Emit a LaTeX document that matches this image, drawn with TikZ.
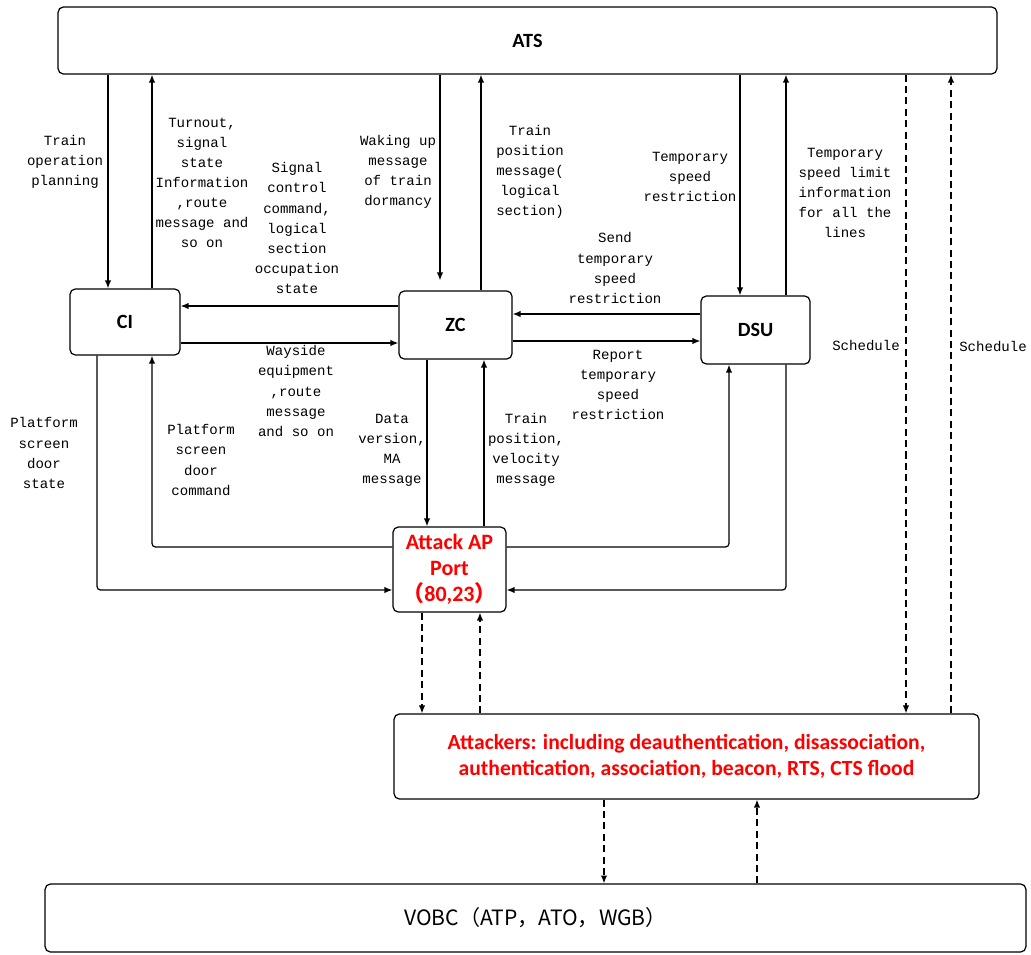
\documentclass[tikz,border=0pt]{standalone}
\usepackage{fontspec}
\usetikzlibrary{shapes,arrows,arrows.meta,calc,positioning}
\newfontfamily\lblfont{Liberation Mono}
\newfontfamily\boxfont{Carlito}
\newfontfamily\cjkfont{Noto Sans CJK SC}
\definecolor{atkred}{RGB}{255,0,0}
\tikzstyle{unit} = [rectangle, draw, rounded corners=3pt, line width=0.7pt, align=center, inner sep=0pt,
font=\boxfont\bfseries\fontsize{11.5}{14}\selectfont]
\tikzstyle{msg} = [align=center, inner sep=0pt, font=\lblfont\fontsize{8}{11.4}\selectfont]
\tikzstyle{line} = [draw, line width=0.7pt, -{Latex[length=4.5pt,width=3.6pt]}]
\tikzstyle{dline} = [line, dash pattern=on 4pt off 2.5pt]
\begin{document}
\begin{tikzpicture}[x=0.02cm, y=-0.02cm]
\useasboundingbox (0,0) rectangle (1031,954);
\node [unit, minimum width=18.78cm, minimum height=1.34cm] (ats) at (527.5,40.5) {ATS};
\node [unit, minimum width=2.2cm, minimum height=1.32cm] (ci) at (125,322) {CI};
\node [unit, minimum width=2.26cm, minimum height=1.36cm] (zc) at (455.5,325) {ZC};
\node [unit, minimum width=2.18cm, minimum height=1.36cm] (dsu) at (755.5,330) {DSU};
\node [unit, minimum width=2.26cm, minimum height=1.7cm, text=atkred,
font=\boxfont\bfseries\fontsize{12.5}{14.7}\selectfont] (ap) at (449.5,569.5)
{Attack AP\\Port\\{\cjkfont （}80,23{\cjkfont ）}};
\node [unit, minimum width=11.7cm, minimum height=1.7cm, text=atkred,
font=\boxfont\bfseries\fontsize{12.3}{14.7}\selectfont] (att) at (686.5,756.5)
{Attackers: including deauthentication, disassociation,\\authentication, association, beacon, RTS, CTS flood};
\node [unit, minimum width=19.62cm, minimum height=1.36cm,
font=\cjkfont\fontsize{12}{14}\selectfont] (vobc) at (535.5,918) {VOBC（ATP，ATO，WGB）};

\node [msg] (plan) at (65,162) {Train\\operation\\planning};
\node [msg] (turnout) at (202,183) {Turnout,\\signal\\state\\Information\\,route\\message and\\so on};
\node [msg] (sigctl) at (297,228) {Signal\\control\\command,\\logical\\section\\occupation\\state};
\node [msg] (wake) at (398,172) {Waking up\\message\\of train\\dormancy};
\node [msg] (trpos) at (530,172) {Train\\position\\message(\\logical\\section)};
\node [msg] (tsr) at (690,177) {Temporary\\speed\\restriction};
\node [msg] (tsrall) at (845,193) {Temporary\\speed limit\\information\\for all the\\lines};
\node [msg] (send) at (615,268) {Send\\temporary\\speed\\restriction};
\node [msg] (wayside) at (296,391) {Wayside\\equipment\\,route\\message\\and so on};
\node [msg] (report) at (618,385) {Report\\temporary\\speed\\restriction};
\node [msg] (psdstate) at (44,453) {Platform\\screen\\door\\state};
\node [msg] (psdcmd) at (201,460) {Platform\\screen\\door\\command};
\node [msg] (data) at (392,450) {Data\\version,\\MA\\message};
\node [msg] (trvel) at (526,450) {Train\\position,\\velocity\\message};
\node [msg] (sch1) at (866,345) {Schedule};
\node [msg] (sch2) at (993,346) {Schedule};

% lanes to and from ATS
\coordinate (c1) at ($(ci.north)+(-17,0)$);
\coordinate (c2) at ($(ci.north)+(27,0)$);
\coordinate (z1) at ($(zc.north)+(-15.5,0)$);
\coordinate (z2) at ($(zc.north)+(25.5,0)$);
\coordinate (d1) at ($(dsu.north)+(-15.5,0)$);
\coordinate (d2) at ($(dsu.north)+(30.5,0)$);
\path [line] (c1 |- ats.south) -- (c1);
\path [line] (c2) -- (c2 |- ats.south);
\path [line, shorten >=0.2cm] (z1 |- ats.south) -- (z1);
\path [line] (z2) -- (z2 |- ats.south);
\path [line] (d1 |- ats.south) -- (d1);
\path [line] (d2) -- (d2 |- ats.south);

% CI, ZC, DSU
\coordinate (h1) at ($(zc.west)+(0,-19)$);
\coordinate (h2) at ($(zc.west)+(0,18)$);
\coordinate (h3) at ($(zc.east)+(0,-11)$);
\coordinate (h4) at ($(zc.east)+(0,16)$);
\path [line] (h1) -- (h1 -| ci.east);
\path [line] (h2 -| ci.east) -- (h2);
\path [line] (h3 -| dsu.west) -- (h3);
\path [line] (h4) -- (h4 -| dsu.west);

% attack AP
\coordinate (z3) at ($(zc.south)+(-28.5,0)$);
\coordinate (z4) at ($(zc.south)+(28.5,0)$);
\path [line] (z3) -- (z3 |- ap.north);
\path [line] (z4 |- ap.north) -- (z4);
\coordinate (a1) at ($(ap.west)+(0,-22.5)$);
\coordinate (a2) at ($(ap.west)+(0,20.5)$);
\coordinate (c3) at ($(ci.south)+(-28,0)$);
\coordinate (c4) at ($(ci.south)+(27,0)$);
\coordinate (d3) at ($(dsu.south)+(-26.5,0)$);
\coordinate (d4) at ($(dsu.south)+(30.5,0)$);
\path [line, rounded corners=2pt] (a1) -| (c4);
\path [line, rounded corners=2pt] (c3) |- (a2);
\path [line, rounded corners=2pt] (a1 -| ap.east) -| (d3);
\path [line, rounded corners=2pt] (d4) |- (a2 -| ap.east);

% dashed links
\coordinate (s1) at ($(att.north)+(219.5,0)$);
\coordinate (s2) at ($(att.north)+(264.5,0)$);
\coordinate (p1) at ($(ap.south)+(-27.5,0)$);
\coordinate (p2) at ($(ap.south)+(30.5,0)$);
\coordinate (v1) at ($(vobc.north)+(68.5,0)$);
\coordinate (v2) at ($(vobc.north)+(221.5,0)$);
\path [dline] (s1 |- ats.south) -- (s1);
\path [dline] (s2) -- (s2 |- ats.south);
\path [dline] (p1) -- (p1 |- att.north);
\path [dline] (p2 |- att.north) -- (p2);
\path [dline] (v1 |- att.south) -- (v1);
\path [dline] (v2) -- (v2 |- att.south);
\end{tikzpicture}
\end{document}
